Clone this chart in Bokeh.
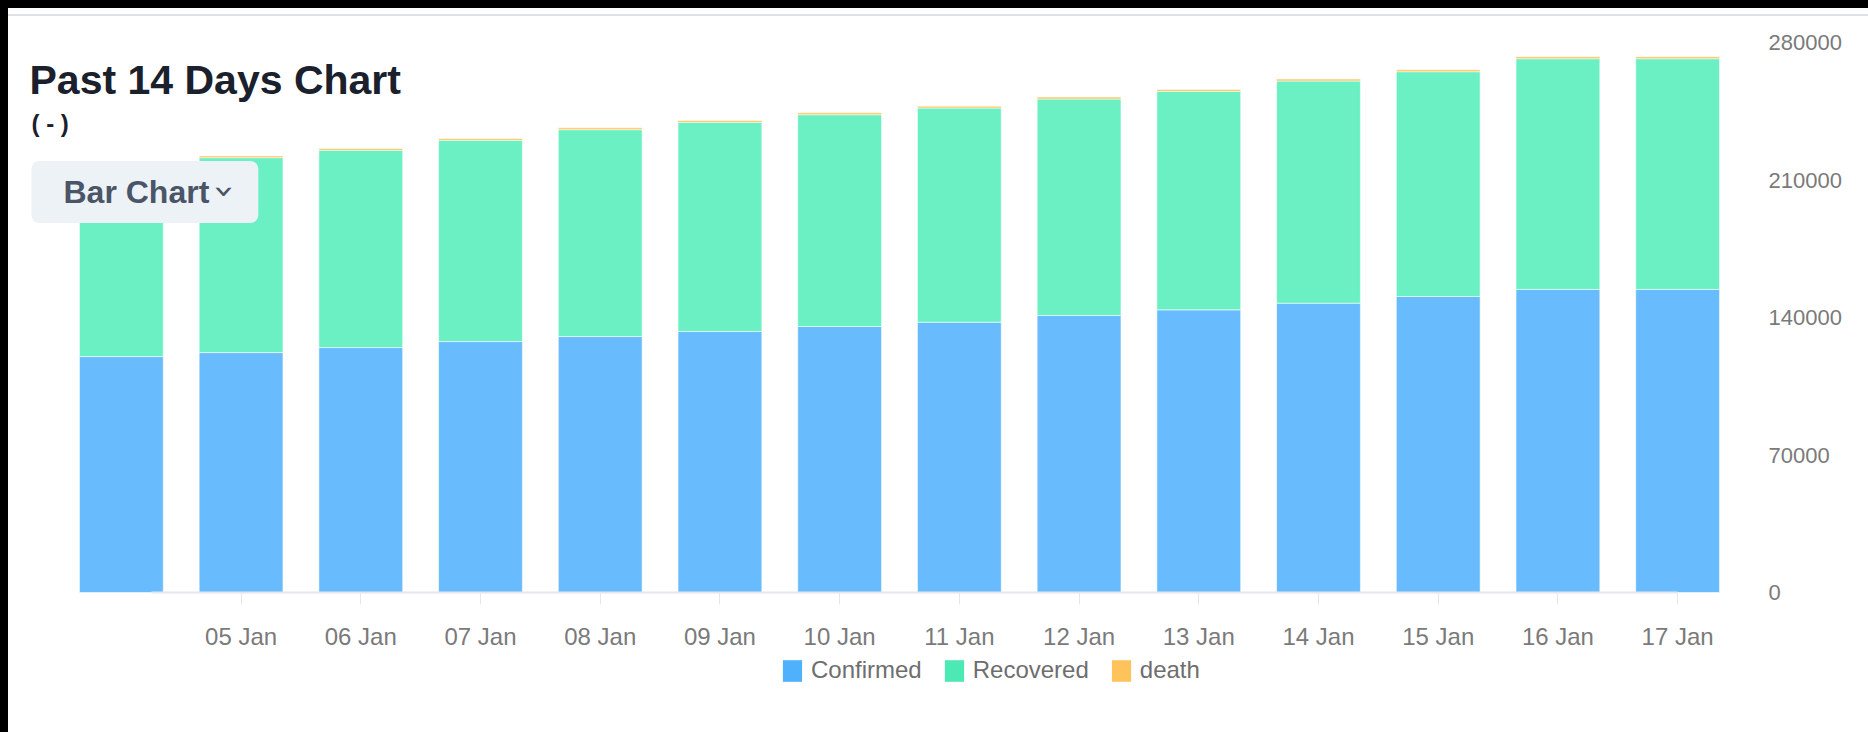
import numpy as np
from bokeh.plotting import figure
from bokeh.models import (ColumnDataSource, Range1d, FixedTicker, NumeralTickFormatter,
                          Label, Legend, LegendItem, GlobalInlineStyleSheet)
from bokeh.embed import file_html
from bokeh.resources import INLINE

# ---------------- data ----------------
dates = ["04 Jan", "05 Jan", "06 Jan", "07 Jan", "08 Jan", "09 Jan", "10 Jan",
         "11 Jan", "12 Jan", "13 Jan", "14 Jan", "15 Jan", "16 Jan", "17 Jan"]
confirmed = [120100, 122150, 124700, 127750, 130300, 132850, 135400,
             137600, 141000, 143900, 147300, 150700, 154300, 154300]
recovered = [98020, 99220, 100430, 102470, 105320, 106530, 107850,
             109050, 110240, 111250, 113100, 114430, 117450, 117450]
death = [880, 890, 900, 910, 920, 930, 940, 950, 960, 970, 980, 990, 1000, 1000]
y_ticks = [0, 70000, 140000, 210000, 280000]
series_names = ["Confirmed", "Recovered", "death"]
bar_colors = ["#68bbfc", "#6af0c3", "#fdc55e"]
legend_colors = ["#4fb1fb", "#4de9b5", "#fec35a"]
title_text = "Past 14 Days Chart"
subtitle_text = "( - )"
button_text = "Bar Chart"

# ---------------- geometry (canvas pixels) ----------------
W, H = 1860, 724
FL, FR, FT, FB = 0, 1729, 34, H        # frame
CAT_L = 53                             # left edge of first category band
ZERO_Y = 584                           # canvas y of value 0
n = len(dates)
x = list(range(n))
X1 = n - 0.5
X0 = -0.5 - (CAT_L - FL) / (FR - CAT_L) * n
Y1 = y_ticks[-1]
Y0 = -(FB - ZERO_Y) / (ZERO_Y - FT) * Y1


def xd(cx):
    return X0 + (cx - FL) / (FR - FL) * (X1 - X0)


def yd(cy):
    return Y0 + (FB - cy) / (FB - FT) * (Y1 - Y0)


FONT = "Liberation Sans"

src = ColumnDataSource(dict(x=x, date=dates, Confirmed=confirmed,
                            Recovered=recovered, death=death))

p = figure(width=W, height=H, output_backend="svg", toolbar_location=None,
           x_range=Range1d(X0, X1), y_range=Range1d(Y0, Y1),
           y_axis_location="right",
           min_border_left=FL, min_border_right=W - FR,
           min_border_top=FT, min_border_bottom=H - FB)
p.outline_line_color = None
p.grid.visible = False
p.background_fill_alpha = 0
p.border_fill_alpha = 0
p.stylesheets = [GlobalInlineStyleSheet(
    css=("html{background:#000;} "
         "body{margin:8px 0 0 8px !important; overflow:hidden; "
         "background:#fff linear-gradient(to bottom, #fff 0px, #fff 6px, #dde1ea 6px, "
         "#dde1ea 8px, #fff 8px) no-repeat;}"))]

p.vbar_stack(series_names, x="x", width=0.7, fill_color=bar_colors,
             line_color="white", line_alpha=0.55, line_width=1, source=src)

# legend with swatch renderers
dummy = ColumnDataSource(dict(x=np.array([np.nan]), top=np.array([np.nan])))
items = []
for name, c in zip(series_names, legend_colors):
    r = p.vbar(x="x", top="top", width=0.7, fill_color=c, line_color=None, source=dummy)
    items.append(LegendItem(label=name, renderers=[r]))
legend = Legend(items=items, orientation="horizontal", location=(772, 48),
                padding=0, margin=0, spacing=20, label_standoff=7,
                glyph_width=24, glyph_height=27,
                border_line_color=None, background_fill_alpha=0,
                label_text_font=FONT, label_text_font_size="24px",
                label_text_color="#6e6e6e")
p.add_layout(legend, "center")

# y axis (right)
ya = p.yaxis[0]
ya.ticker = FixedTicker(ticks=y_ticks)
ya.formatter = NumeralTickFormatter(format="0")
ya.axis_line_color = None
ya.major_tick_line_color = None
ya.minor_tick_line_color = None
ya.major_label_standoff = 25
ya.major_label_text_font = FONT
ya.major_label_text_font_size = "22px"
ya.major_label_text_color = "#7a7a7a"

# x axis (bottom, pinned at value 0)
xa = p.xaxis[0]
xa.fixed_location = 0
xa.ticker = FixedTicker(ticks=x[1:])
xa.major_label_overrides = {i: dates[i] for i in x}
xa.bounds = (x[0] + 0.25, x[-1])
xa.axis_line_color = "#e3e6ec"
xa.axis_line_width = 2
xa.major_tick_line_color = "#e3e6ec"
xa.major_tick_line_width = 1
xa.major_tick_out = 12
xa.major_tick_in = 0
xa.minor_tick_line_color = None
xa.major_label_standoff = 18
xa.major_label_text_font = FONT
xa.major_label_text_font_size = "24px"
xa.major_label_text_color = "#7a7a7a"

# title and subtitle
p.add_layout(Label(x=xd(21), y=yd(71), text=title_text, text_font=FONT,
                   text_font_size="41px", text_font_style="bold",
                   text_color="#1a202c", text_baseline="alphabetic", text_align="left"))
p.add_layout(Label(x=xd(23), y=yd(115), text=subtitle_text, text_font=FONT,
                   text_font_size="24px", text_font_style="bold",
                   text_color="#1a202c", text_baseline="alphabetic", text_align="left"))

# "Bar Chart" button (anchor = outer box corner)
p.add_layout(Label(x=xd(23), y=yd(183.5), text=button_text, text_font=FONT,
                   text_font_size="32px", text_font_style="bold",
                   text_color="#4a5568", text_baseline="middle", text_align="left",
                   background_fill_color="#edf2f7", background_fill_alpha=1,
                   border_radius=8,
                   padding=dict(left=32, right=49, top=13, bottom=13)))
p.add_layout(Label(x=xd(217), y=yd(183), text="\u203a", text_font="DejaVu Sans",
                   text_font_size="36px", text_color="#4a5568", angle=-np.pi / 2,
                   text_baseline="middle", text_align="center"))

open("out.html", "w").write(file_html(p, INLINE))
